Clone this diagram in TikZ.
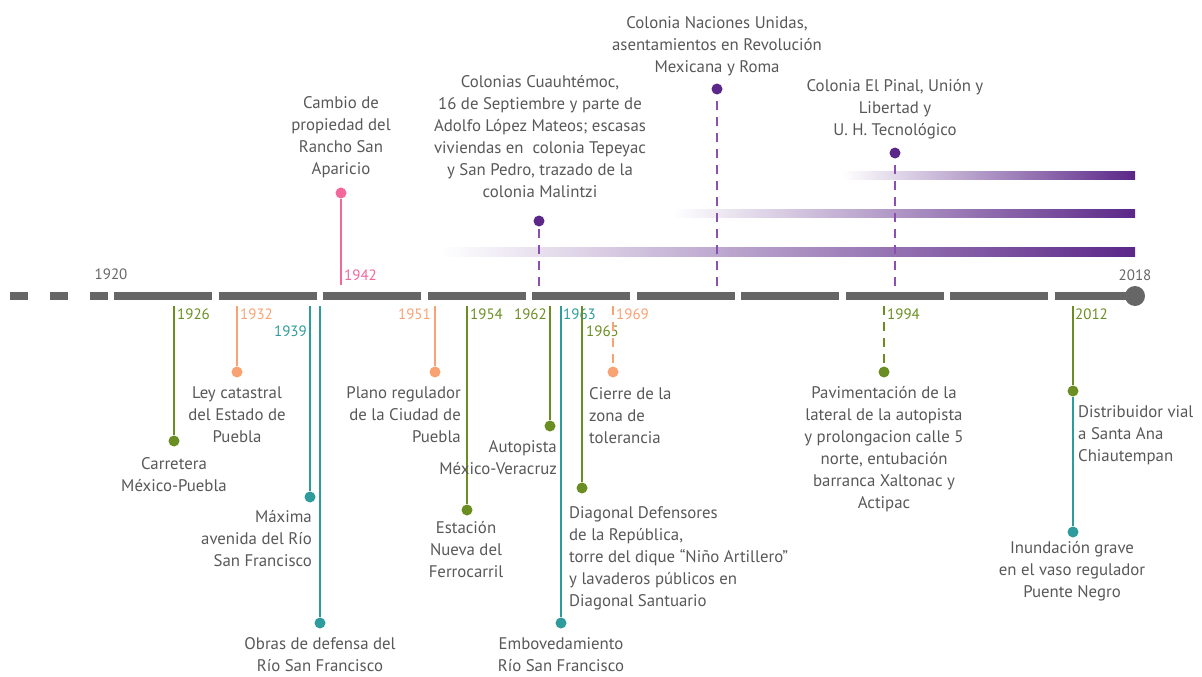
\documentclass[tikz,border=0pt]{standalone}
\usepackage{fontspec}
\setmainfont{PT Sans}
\usepackage{tikz}
\usetikzlibrary{positioning,shapes}

\definecolor{bargray}{HTML}{666666}
\definecolor{txtgray}{HTML}{585858}
\definecolor{tlgreen}{HTML}{6B8E23}
\definecolor{tlorange}{HTML}{F9A273}
\definecolor{tlteal}{HTML}{2E9C9C}
\definecolor{tlpink}{HTML}{F4679A}
\definecolor{tlpurple}{HTML}{5B2788}
\definecolor{tldash}{HTML}{8A4FB0}

\begin{document}
\begin{tikzpicture}[x=1pt,y=-1pt]
            \tikzstyle{event}=[text=txtgray, align=center, inner sep=0pt, font=\fontsize{16.8}{22}\selectfont]
            \tikzstyle{year}=[inner sep=0pt, font=\fontsize{15}{18}\selectfont]
            \tikzstyle{dot}=[circle, minimum size=11pt, inner sep=0pt]
            \tikzstyle{connect}=[line width=2pt]
            \tikzstyle{dashconnect}=[line width=2.5pt, dash pattern=on 9pt off 7pt]
            \useasboundingbox (0,0) rectangle (1202,677);

            % the time bar
            \foreach \x in {10,50,90}
                \fill[bargray] (\x,292) rectangle ++(18,8);
            \foreach \i in {0,...,8}
                \fill[bargray] (114+\i*104.55,292) rectangle ++(98,8);
            \fill[bargray] (1055,292) rectangle (1135,300);
            \node[circle, fill=bargray, minimum size=20pt, inner sep=0pt] (end) at (1135,296){};
            \node[year, text=bargray] (y1920) at (111,274){1920};
            \node[year, text=bargray] (y2018) at (1135,275){2018};

            % growth bars
            \shade[left color=white, right color=tlpurple] (842,171) rectangle (1135,179);
            \shade[left color=white, right color=tlpurple] (672,209) rectangle (1135,217);
            \shade[left color=white, right color=tlpurple] (440,247) rectangle (1135,256);

            % points on the bar
            \coordinate (b1926) at (174,306);
            \coordinate (b1932) at (237,306);
            \coordinate (b1939) at (310,306);
            \coordinate (b1940) at (320,306);
            \coordinate (b1942) at (341,285);
            \coordinate (b1951) at (435,306);
            \coordinate (b1954) at (467,306);
            \coordinate (b1961) at (539,286);
            \coordinate (b1962) at (550,306);
            \coordinate (b1963) at (561,306);
            \coordinate (b1965) at (582,306);
            \coordinate (b1969) at (613,306);
            \coordinate (b1978) at (717,286);
            \coordinate (b1994) at (884,306);
            \coordinate (b1994u) at (895,286);
            \coordinate (b2012) at (1073,306);

            % year labels
            \node[year, text=tlgreen, anchor=west] (y1926) at (177,314){1926};
            \node[year, text=tlorange, anchor=west] (y1932) at (240,314){1932};
            \node[year, text=tlteal, anchor=east] (y1939) at (307,331){1939};
            \node[year, text=tlpink, anchor=west] (y1942) at (344,275){1942};
            \node[year, text=tlorange, anchor=east] (y1951) at (431,314){1951};
            \node[year, text=tlgreen, anchor=west] (y1954) at (470,314){1954};
            \node[year, text=tlgreen, anchor=east] (y1962) at (547,314){1962};
            \node[year, text=tlteal, anchor=west] (y1963) at (563,314){1963};
            \node[year, text=tlgreen, anchor=west] (y1965) at (586,331){1965};
            \node[year, text=tlorange, anchor=west] (y1969) at (616,314){1969};
            \node[year, text=tlgreen, anchor=west] (y1994) at (887,314){1994};
            \node[year, text=tlgreen, anchor=west] (y2012) at (1075,314){2012};

            % dots
            \node[dot, fill=tlgreen] (d1926) at (174,441){};
            \node[dot, fill=tlorange] (d1932) at (237,372){};
            \node[dot, fill=tlteal] (d1939) at (310,497){};
            \node[dot, fill=tlteal] (d1940) at (320,623){};
            \node[dot, fill=tlpink] (d1942) at (341,193){};
            \node[dot, fill=tlorange] (d1951) at (435,372){};
            \node[dot, fill=tlgreen] (d1954) at (467,510){};
            \node[dot, fill=tlpurple] (d1961) at (539,221){};
            \node[dot, fill=tlgreen] (d1962) at (550,426){};
            \node[dot, fill=tlteal] (d1963) at (561,623){};
            \node[dot, fill=tlgreen] (d1965) at (582,488){};
            \node[dot, fill=tlorange] (d1969) at (613,372){};
            \node[dot, fill=tlpurple] (d1978) at (717,89){};
            \node[dot, fill=tlgreen] (d1994) at (884,372){};
            \node[dot, fill=tlpurple] (d1994u) at (895,153){};
            \node[dot, fill=tlgreen] (d2012) at (1073,391){};
            \node[dot, fill=tlteal] (d2012b) at (1073,532){};

            % stems
            \path[-] (b1926) edge [connect, tlgreen] (d1926);
            \path[-] (b1932) edge [connect, tlorange] (d1932);
            \path[-] (b1939) edge [connect, tlteal] (d1939);
            \path[-] (b1940) edge [connect, tlteal] (d1940);
            \path[-] (b1942) edge [connect, tlpink] (d1942);
            \path[-] (b1951) edge [connect, tlorange] (d1951);
            \path[-] (b1954) edge [connect, tlgreen] (d1954);
            \path[-] (b1961) edge [dashconnect, tldash] (d1961);
            \path[-] (b1962) edge [connect, tlgreen] (d1962);
            \path[-] (b1963) edge [connect, tlteal] (d1963);
            \path[-] (b1965) edge [connect, tlgreen] (d1965);
            \path[-] (b1969) edge [dashconnect, tlorange] (d1969);
            \path[-] (b1978) edge [dashconnect, tldash] (d1978);
            \path[-] (b1994) edge [dashconnect, tlgreen] (d1994);
            \path[-] (b1994u) edge [dashconnect, tldash] (d1994u);
            \path[-] (b2012) edge [connect, tlgreen] (d2012);
            \path[-] (d2012) edge [connect, tlteal] (d2012b);

            % events
            \node[event] (e1926) at (174,475){Carretera\\México-Puebla};
            \node[event] (e1932) at (237,415){Ley catastral\\del Estado de\\Puebla};
            \node[event, align=right, anchor=east] (e1939) at (312,539){Máxima\\avenida del Río\\San Francisco};
            \node[event] (e1940) at (320,655){Obras de defensa del\\Río San Francisco};
            \node[event] (e1942) at (341,137){Cambio de\\propiedad del\\Rancho San\\Aparicio};
            \node[event, align=right, anchor=east] (e1951) at (461,415){Plano regulador\\de la Ciudad de\\Puebla};
            \node[event] (e1954) at (466,550){Estación\\Nueva del\\Ferrocarril};
            \node[event] (e1961) at (540,137){Colonias Cuauhtémoc,\\16 de Septiembre y parte de\\Adolfo López Mateos; escasas\\viviendas en\ \ colonia Tepeyac\\y San Pedro, trazado de la\\colonia Malintzi};
            \node[event, align=right, anchor=east] (e1962) at (557,458){Autopista\\México-Veracruz};
            \node[event] (e1963) at (561,655){Embovedamiento\\Río San Francisco};
            \node[event, align=left, anchor=west] (e1965) at (569,558){Diagonal Defensores\\de la República,\\torre del dique “Niño Artillero”\\y lavaderos públicos en\\Diagonal Santuario};
            \node[event, align=left, anchor=west] (e1969) at (589,416){Cierre de la\\zona de\\tolerancia};
            \node[event] (e1978) at (717,46){Colonia Naciones Unidas,\\asentamientos en Revolución\\Mexicana y Roma};
            \node[event] (e1994) at (884,449){Pavimentación de la\\lateral de la autopista\\y prolongacion calle 5\\norte, entubación\\barranca Xaltonac y\\Actipac};
            \node[event] (e1994u) at (895,109){Colonia El Pinal, Unión y\\Libertad y\\U. H. Tecnológico};
            \node[event, align=left, anchor=west] (e2012) at (1078,435){Distribuidor vial\\a Santa Ana\\Chiautempan};
            \node[event] (e2012b) at (1072,571){Inundación grave\\en el vaso regulador\\Puente Negro};

        \end{tikzpicture}
\end{document}
